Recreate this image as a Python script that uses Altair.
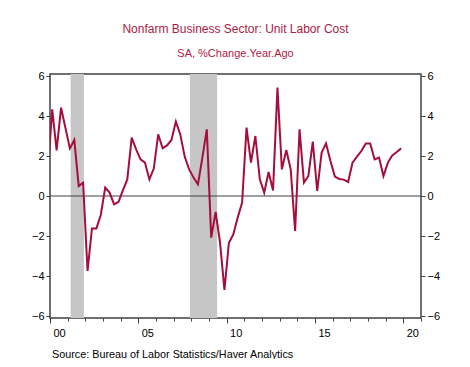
import altair as alt
import pandas as pd

# quarterly y/y % change, starting 1999Q4 (clipped at the left edge), through 2019Q4
start_year = 1999
start_quarter = 4
values = [
    1.2,
    4.33, 2.28, 4.42, 3.4,
    2.38, 2.8, 0.5, 0.67,
    -3.75, -1.62, -1.62, -0.95,
    0.42, 0.17, -0.42, -0.3,
    0.28, 0.83, 2.92, 2.33,
    1.83, 1.67, 0.83, 1.37,
    3.08, 2.39, 2.53, 2.8,
    3.72, 3.08, 1.97, 1.33,
    0.92, 0.58, 1.92, 3.33,
    -2.08, -0.8, -2.33, -4.7,
    -2.35, -1.92, -1.08, -0.33,
    3.42, 1.67, 3.0, 0.83,
    0.17, 1.2, 0.28, 5.42,
    1.33, 2.3, 1.33, -1.75,
    3.33, 0.67, 1.0, 2.72,
    0.25, 2.17, 2.63, 1.75,
    0.97, 0.85, 0.82, 0.7,
    1.67, 1.97, 2.25, 2.63,
    2.63, 1.83, 1.92, 1.0,
    1.67, 2.03, 2.2, 2.38,
]

recession_start = [2001.17, 2007.92]
recession_end = [2001.92, 2009.46]

y_ticks = [-6, -4, -2, 0, 2, 4, 6]
x_major = [2000, 2005, 2010, 2015, 2020]
x_minor = list(range(2000, 2022))

title_text = "Nonfarm Business Sector: Unit Labor Cost"
subtitle_text = "SA, %Change.Year.Ago"
source_text = "Source:  Bureau of Labor Statistics/Haver Analytics"

LINE = "#a50e3a"
TITLE = "#b0193f"
DARK = "#404040"
FONT = "Liberation Sans"
W, H = 371, 244

t0 = start_year + (start_quarter - 1) / 4
df = pd.DataFrame({
    "t": [t0 + (i + 0.5) / 4 for i in range(len(values))],
    "v": values,
})
rec = pd.DataFrame({"s": recession_start, "e": recession_end})
zero = pd.DataFrame({"z": [0]})
src = pd.DataFrame({"txt": [source_text]})

xscale = alt.Scale(domain=[2000, 2021], nice=False, zero=False)
yscale = alt.Scale(domain=[-6.1, 6.1], nice=False, zero=False)

rects = alt.Chart(rec).mark_rect(color="#c6c6c6").encode(
    x=alt.X("s:Q", scale=xscale, title=None,
            axis=alt.Axis(orient="bottom", values=x_minor, labels=False,
                          tickSize=3, domain=False, grid=False,
                          tickColor=DARK)),
    x2="e:Q",
    y=alt.value(0),
    y2=alt.value(H),
)

zero_rule = alt.Chart(zero).mark_rule(color=DARK, strokeWidth=1).encode(
    y=alt.Y("z:Q", scale=yscale, title=None,
            axis=alt.Axis(orient="right", values=y_ticks, tickSize=4,
                          labelPadding=2, domain=False, grid=False,
                          tickColor=DARK, labelAlign="left")),
)

line = alt.Chart(df).mark_line(color=LINE, strokeWidth=2, clip=True).encode(
    x=alt.X("t:Q", scale=xscale, title=None,
            axis=alt.Axis(orient="bottom", values=x_major, tickSize=5,
                          labelExpr="substring(toString(datum.value), 2)",
                          labelOffset=9, labelPadding=4, labelFlush=False,
                          domain=False, grid=False, tickColor=DARK)),
    y=alt.Y("v:Q", scale=yscale, title=None,
            axis=alt.Axis(orient="left", values=y_ticks, tickSize=4,
                          labelPadding=2, domain=False, grid=False,
                          tickColor=DARK)),
)

source = alt.Chart(src).mark_text(
    align="left", baseline="alphabetic", font=FONT, fontSize=10.8, color="black"
).encode(
    x=alt.value(2),
    y=alt.value(H + 40),
    text="txt:N",
)

chart = alt.layer(rects, zero_rule, line, source).resolve_axis(
    x="independent", y="independent"
).properties(
    width=W,
    height=H,
    padding={"left": 42, "top": 66, "right": 41, "bottom": 41},
    autosize=alt.AutoSizeParams(type="none"),
    title=alt.TitleParams(
        text=title_text,
        subtitle=subtitle_text,
        color=TITLE,
        subtitleColor=TITLE,
        font=FONT,
        subtitleFont=FONT,
        fontSize=12,
        subtitleFontSize=11,
        fontWeight="normal",
        anchor="middle",
        offset=10,
        subtitlePadding=12,
    ),
).configure_view(
    stroke=DARK, strokeWidth=1.5
).configure_axis(
    labelFont=FONT, labelFontSize=11, labelColor="black"
)

chart.save("out.html", embed_options={"renderer": "svg", "actions": False})
